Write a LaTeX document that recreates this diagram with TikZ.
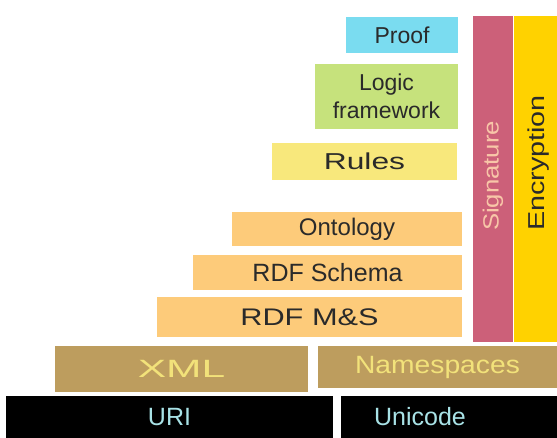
\documentclass[tikz,border=0pt]{standalone}
\usepackage{fontspec}
\setmainfont{Liberation Sans}
\usepackage{graphicx}
\definecolor{proofC}{HTML}{7ADCF0}
\definecolor{logicC}{HTML}{C6E27C}
\definecolor{rulesC}{HTML}{F8E87C}
\definecolor{rdfC}{HTML}{FDCB7A}
\definecolor{sigC}{HTML}{CC6079}
\definecolor{encC}{HTML}{FFD200}
\definecolor{xmlC}{HTML}{BD9D5E}
\definecolor{darkT}{HTML}{2A2A2A}
\definecolor{xmlT}{HTML}{F2E27A}
\definecolor{uriT}{HTML}{A8E2E6}
\definecolor{sigT}{HTML}{F8C6A8}
\begin{document}
\begin{tikzpicture}[x=1pt, y=-1pt, layer/.style={rectangle, inner sep=0pt, text=darkT}, fs/.style={font=\fontsize{#1pt}{28pt}\selectfont}]
		\useasboundingbox (0,0) rectangle (557,438);
		\node (proof) [layer, fill=proofC, minimum width=112, minimum height=36, fs=23] at (402,35) {Proof};
		\node (logic) [layer, fill=logicC, minimum width=143, minimum height=65, fs=23, align=center] at (386.5,96.5) {Logic\\framework};
		\node (rules) [layer, fill=rulesC, minimum width=185, minimum height=37, fs=23] at (364.5,161.5) {\scalebox{1.38}[1]{Rules}};
		\node (onto) [layer, fill=rdfC, minimum width=230, minimum height=34, fs=24] at (347,229) {Ontology};
		\node (schema) [layer, fill=rdfC, minimum width=269, minimum height=35, fs=25] at (327.5,272.5) {RDF Schema};
		\node (rdfms) [layer, fill=rdfC, minimum width=305, minimum height=40, fs=24] at (309.5,317) {\scalebox{1.28}[1]{RDF M\&S}};
		%Seitenbalken
		\node (sig) [layer, fill=sigC, minimum width=40, minimum height=326] at (493,179) {};
		\node (enc) [layer, fill=encC, minimum width=43, minimum height=326] at (535.5,179) {};
		\node (sigtext) [rotate=90, anchor=west, inner sep=0pt, text=sigT, fs=22] at ([yshift=111pt]sig.south) {\scalebox{1.17}[1]{Signature}};
		\node (enctext) [rotate=90, anchor=west, inner sep=0pt, text=darkT, fs=23] at ([xshift=3pt, yshift=111pt]enc.south) {\scalebox{1.25}[1]{Encryption}};
		\node (xml) [layer, fill=xmlC, text=xmlT, minimum width=253, minimum height=46, fs=25] at (181.5,369) {\scalebox{1.7}[1]{XML}};
		\node (ns) [layer, fill=xmlC, text=xmlT, minimum width=239, minimum height=42, fs=25] at (437.5,367) {\scalebox{1.13}[1]{Namespaces}};
		\node (uri) [layer, fill=black, text=uriT, minimum width=327, minimum height=42, fs=25] at (169.5,417) {URI};
		\node (unicode) [layer, fill=black, minimum width=216, minimum height=42, label={[xshift=-29pt, text=uriT, fs=25]center:Unicode}] at (449,417) {};
	\end{tikzpicture}
\end{document}
